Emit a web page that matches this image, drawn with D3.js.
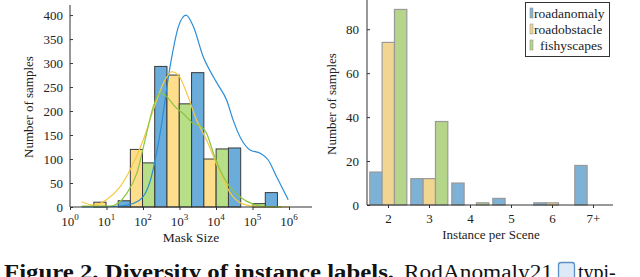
<!DOCTYPE html>
<html>
<head>
<meta charset="utf-8">
<script src="https://cdn.jsdelivr.net/npm/d3@7"></script>
<style>
  html, body { margin:0; padding:0; background:#fff; }
  svg { display:block; font-family:"Liberation Serif", "DejaVu Serif", serif; }
</style>
</head>
<body>
<svg id="fig" width="640" height="277"></svg>
<script>
// ---- left chart : mask size histogram (log10 exponents of bin edges)
const maskTickExp = [0, 1, 2, 3, 4, 5, 6];
const maskBinExp = [0.32, 1.32, 2.32, 3.33, 4.34, 5.35, 6.35];
const maskRoadanomaly = [0, 13, 293, 280, 123, 30];
const maskRoadobstacle = [10, 120, 275, 100, 0, 0];
const maskFishyscapes = [0, 92, 215, 121, 7, 0];
const maskYTicks = [0, 50, 100, 150, 200, 250, 300, 350, 400];

const kdeRoadanomaly = [[0.32,0],[1.0,0.5],[1.5,3],[1.92,15],[2.2,55],[2.47,154],[2.74,292],[2.97,376],[3.18,400],
  [3.38,376],[3.65,313],[3.93,271],[4.06,254],[4.29,223],[4.47,181],[4.7,140],[4.93,119],[5.21,112],[5.43,98],[5.66,63],[5.98,15]];
const kdeRoadobstacle = [[0.32,11],[0.64,4],[1.0,15],[1.37,42],[1.69,84],[2.01,140],[2.28,202],[2.56,258],[2.79,282],
  [2.97,275],[3.2,237],[3.47,181],[3.74,140],[3.97,98],[4.2,56],[4.47,21],[4.84,4],[5.3,0.5],[6.03,0]];
const kdeFishyscapes = [[0.32,2],[1.1,2],[1.55,28],[1.83,70],[2.1,154],[2.28,209],[2.47,238],[2.65,230],[2.88,209],
  [3.1,195],[3.38,174],[3.61,167],[3.74,154],[3.93,112],[4.11,77],[4.38,42],[4.66,21],[5.02,6],[5.39,0.5],[5.8,0]];

// ---- right chart : instances per scene
const sceneCats = ['2', '3', '4', '5', '6', '7+'];
const sceneRoadanomaly = [15, 12, 10, 3, 1, 18];
const sceneRoadobstacle = [74, 12, 0, 0, 1, 0];
const sceneFishyscapes = [89, 38, 1, 0, 0, 0];
const sceneYTicks = [0, 20, 40, 60, 80];

const seriesNames = ['roadanomaly', 'roadobstacle', 'fishyscapes'];

const colLeft = ['#6aaddb', '#fedd8b', '#b7df87'];
const colCurve = ['#2b8dd6', '#f6c945', '#8cc641'];
const colRight = ['#7eb1d6', '#f1d692', '#b5d58b'];

const svg = d3.select('#fig');

// ================= left =================
const L = { x0:70, x1:312, yTop:5, yBase:207 };
const xl = d3.scaleLog().domain([1, Math.pow(10, 6.63)]).range([L.x0, L.x1]);
const yl = d3.scaleLinear().domain([0, 421]).range([L.yBase, L.yTop]);

const gl = svg.append('g');
const maskSeries = [maskRoadanomaly, maskRoadobstacle, maskFishyscapes];

maskSeries.forEach((vals, s) => {
  gl.append('g').selectAll('rect')
    .data(vals.map((v, i) => ({ v, i })).filter(d => d.v > 0))
    .join('rect')
      .attr('x', d => {
        const e0 = maskBinExp[d.i], e1 = maskBinExp[d.i+1];
        return xl(Math.pow(10, e0 + s*(e1-e0)/3));
      })
      .attr('width', d => {
        const e0 = maskBinExp[d.i], e1 = maskBinExp[d.i+1];
        return xl(Math.pow(10, e0 + (s+1)*(e1-e0)/3)) - xl(Math.pow(10, e0 + s*(e1-e0)/3));
      })
      .attr('y', d => yl(d.v))
      .attr('height', d => yl(0) - yl(d.v))
      .style('fill', colLeft[s])
      .style('stroke', '#3a3a3a')
      .style('stroke-width', 1);
});

const kdeLine = d3.line()
  .x(d => xl(Math.pow(10, d[0])))
  .y(d => yl(d[1]))
  .curve(d3.curveMonotoneX);

[kdeRoadanomaly, kdeRoadobstacle, kdeFishyscapes].forEach((pts, s) => {
  gl.append('path').datum(pts)
    .attr('d', kdeLine)
    .style('fill', 'none')
    .style('stroke', colCurve[s])
    .style('stroke-width', 1.2);
});

// axes
const ylAxis = gl.append('g').attr('transform', `translate(${L.x0},0)`)
  .call(d3.axisLeft(yl).tickValues(maskYTicks).tickSize(-3).tickPadding(7));
ylAxis.select('.domain').attr('d', `M0,${L.yBase}V${L.yTop}`);

const xlAxis = gl.append('g').attr('transform', `translate(0,${L.yBase})`)
  .call(d3.axisBottom(xl).tickValues(maskTickExp.map(e => Math.pow(10, e))).tickSize(3).tickFormat(''));
xlAxis.select('.domain').attr('d', `M${L.x0},0H${L.x1}`);

const expLabels = gl.append('g').selectAll('text')
  .data(maskTickExp)
  .join('text')
    .attr('x', d => xl(Math.pow(10, d)))
    .attr('y', 226)
    .attr('text-anchor', 'middle')
    .style('font-size', '13px')
    .style('fill', '#222');
expLabels.append('tspan').text('10');
expLabels.append('tspan').attr('dy', -6).style('font-size', '9px').text(d => d);

gl.append('text').attr('x', (L.x0+L.x1)/2).attr('y', 242).attr('text-anchor', 'middle')
  .style('font-size', '13.5px').style('fill', '#222').text('Mask Size');
gl.append('text').attr('transform', 'translate(33,107) rotate(-90)').attr('text-anchor', 'middle')
  .style('font-size', '13px').style('fill', '#222').text('Number of samples');

// ================= right =================
const R = { x0:367, x1:613, yTop:0, yBase:205 };
const xr = d3.scaleBand().domain(sceneCats).range([R.x0+1, R.x1+1]).padding(0);
const xsub = d3.scaleBand().domain(seriesNames).range([-18.7, 18.3]).padding(0);
const yr = d3.scaleLinear().domain([0, 93.3]).range([R.yBase, R.yTop]);

const gr = svg.append('g');
const sceneSeries = [sceneRoadanomaly, sceneRoadobstacle, sceneFishyscapes];

sceneSeries.forEach((vals, s) => {
  gr.append('g').selectAll('rect')
    .data(vals.map((v, i) => ({ v, c: sceneCats[i] })).filter(d => d.v > 0))
    .join('rect')
      .attr('x', d => xr(d.c) + xr.bandwidth()/2 + xsub(seriesNames[s]))
      .attr('width', xsub.bandwidth())
      .attr('y', d => yr(d.v))
      .attr('height', d => yr(0) - yr(d.v))
      .style('fill', colRight[s])
      .style('stroke', '#9a9a9a')
      .style('stroke-width', 1.2);
});

const yrAxis = gr.append('g').attr('transform', `translate(${R.x0},0)`)
  .call(d3.axisLeft(yr).tickValues(sceneYTicks).tickSize(-3).tickPadding(8));
yrAxis.select('.domain').attr('d', `M0,${R.yBase}V${R.yTop}`);

const xrAxis = gr.append('g').attr('transform', `translate(0,${R.yBase})`)
  .call(d3.axisBottom(xr).tickSize(3).tickPadding(6));
xrAxis.select('.domain').attr('d', `M${R.x0},0H${R.x1}`);

gr.append('text').attr('x', 491).attr('y', 239).attr('text-anchor', 'middle')
  .style('font-size', '13px').style('fill', '#222').text('Instance per Scene');
gr.append('text').attr('transform', 'translate(336,104) rotate(-90)').attr('text-anchor', 'middle')
  .style('font-size', '13px').style('fill', '#222').text('Number of samples');

// legend
const lg = gr.append('g');
lg.append('rect').attr('x', 525.5).attr('y', 2.5).attr('width', 84).attr('height', 54)
  .style('fill', '#fff').style('stroke', '#333').style('stroke-width', 1);
seriesNames.forEach((name, s) => {
  const yy = 18 + s*16;
  lg.append('rect').attr('x', 530).attr('y', yy-10).attr('width', 3).attr('height', 10)
    .style('fill', colRight[s]).style('stroke', '#999').style('stroke-width', 0.6);
  lg.append('text').attr('x', s === 2 ? 540 : 534).attr('y', yy)
    .style('font-size', '13.5px').style('fill', '#222').text(name);
});

// axis styling: drop d3's sans-serif defaults so the svg font applies
svg.selectAll('g').filter(function(){ return this.hasAttribute('font-family'); })
  .attr('font-family', null).attr('font-size', null);
svg.selectAll('.domain').style('stroke', '#333');
svg.selectAll('.tick line').style('stroke', '#333');
svg.selectAll('.tick text').style('font-size', '13px').style('fill', '#222');

// ================= caption =================
const cap = svg.append('g').style('font-size', '20px').style('fill', '#111');
cap.append('text').attr('x', 4).attr('y', 279).style('font-weight', 'bold')
  .attr('textLength', 390).attr('lengthAdjust', 'spacingAndGlyphs')
  .text('Figure 2. Diversity of instance labels.');
cap.append('text').attr('x', 404).attr('y', 279)
  .attr('textLength', 149).attr('lengthAdjust', 'spacingAndGlyphs')
  .text('RodAnomaly21');
cap.append('rect').attr('x', 558.5).attr('y', 262.5).attr('width', 16).attr('height', 17).attr('rx', 2.5)
  .style('fill', '#dce9f7').style('stroke', '#5b8fc4').style('stroke-width', 1.3);
cap.append('text').attr('x', 578).attr('y', 279).text('typi-');
</script>
</body>
</html>
